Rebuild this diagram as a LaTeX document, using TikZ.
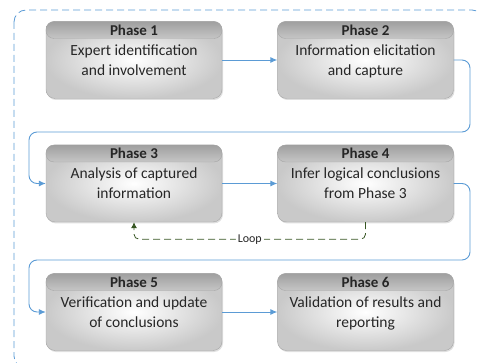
\documentclass[tikz,border=0pt]{standalone}
\usepackage{fontspec}
\setmainfont{Carlito}
\usetikzlibrary{shadows,arrows.meta}

\definecolor{flowblue}{HTML}{5B9BD5}
\definecolor{loopgreen}{HTML}{375623}
\definecolor{inkgray}{HTML}{262626}

\begin{document}
\begin{tikzpicture}[x=1pt, y=-1pt,
    phasebody/.style={draw=gray!70, rounded corners=9pt, minimum width=176pt, minimum height=77pt,
        inner color=white, outer color=gray!42, drop shadow={opacity=0.25, shadow xshift=1pt, shadow yshift=-1.5pt},
        align=center, text=inkgray, font=\fontsize{15.5}{20}\selectfont, text depth=-6pt},
    phasehead/.style={draw=gray!70, rounded corners=8pt, minimum width=176pt, minimum height=17pt,
        top color=gray!75, bottom color=gray!45, inner sep=0pt, anchor=north,
        text=inkgray, font=\fontsize{15}{15}\bfseries\selectfont},
    flowline/.style={draw=flowblue, line width=0.9pt, rounded corners=8pt, -{Latex[length=7pt, width=6pt]}},
    loopline/.style={draw=loopgreen, line width=0.8pt, dash pattern=on 7pt off 4pt, rounded corners=5pt,
        -{Latex[length=6pt, width=6pt]}}]
    \useasboundingbox (0,0) rectangle (479,363);

    % Frame
    \draw[flowblue, line width=0.8pt, dash pattern=on 7pt off 4pt, rounded corners=12pt] (14,10) rectangle (484,368);

    % Phases 1 and 2
    \node[phasebody] (p1) at (134,60) {Expert identification\\and involvement};
    \node[phasehead] (h1) at (p1.north) {Phase 1};
    \node[phasebody] (p2) at (365.5,60) {Information elicitation\\and capture};
    \node[phasehead] (h2) at (p2.north) {Phase 2};

    % Phases 3 and 4
    \node[phasebody] (p3) at (134,183.5) {Analysis of captured\\information};
    \node[phasehead] (h3) at (p3.north) {Phase 3};
    \node[phasebody] (p4) at (365.5,183.5) {Infer logical conclusions\\from Phase 3};
    \node[phasehead] (h4) at (p4.north) {Phase 4};

    % Phases 5 and 6
    \node[phasebody] (p5) at (134,312) {Verification and update\\of conclusions};
    \node[phasehead] (h5) at (p5.north) {Phase 5};
    \node[phasebody] (p6) at (365.5,312) {Validation of results and\\reporting};
    \node[phasehead] (h6) at (p6.north) {Phase 6};

    % Turning points
    \coordinate (r1) at (470,132);
    \coordinate (l1) at (29,132);
    \coordinate (r2) at (470,260);
    \coordinate (l2) at (29,260);

    % Arrows
    \draw[flowline] (p1) -- (p2);
    \draw[flowline] (p2.east) -| (r1) -- (l1) |- (p3.west);
    \draw[flowline] (p3) -- (p4);
    \draw[flowline] (p4.east) -| (r2) -- (l2) |- (p5.west);
    \draw[flowline] (p5) -- (p6);

    % Loop back
    \draw[loopline] (p4.south) -- ++(0,17) -| node[pos=0.25, fill=white, inner sep=2pt, text=inkgray,
        font=\fontsize{12}{13}\selectfont] (lp) {Loop} (p3.south);
\end{tikzpicture}
\end{document}
